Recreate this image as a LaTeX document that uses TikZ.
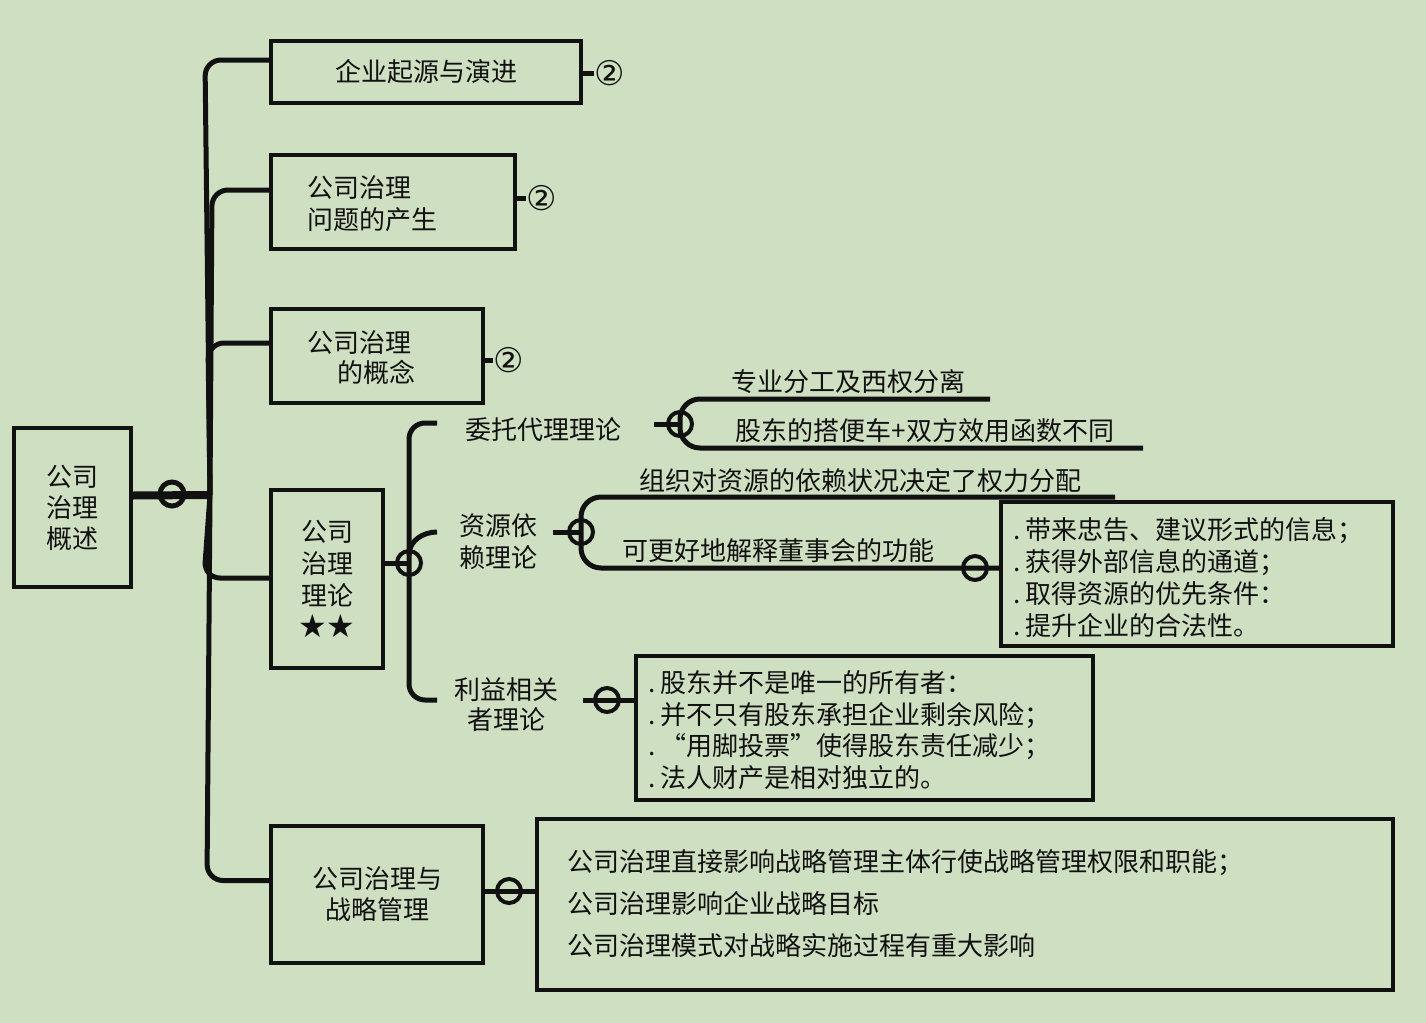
\documentclass[tikz,border=0pt]{standalone}
\usepackage{fontspec}
\usetikzlibrary{calc}
\newfontfamily\cjk{Noto Sans CJK SC}
\newfontfamily\dejavu{DejaVu Sans}
\definecolor{bg}{RGB}{207,223,194}
\definecolor{ink}{RGB}{17,17,17}
\newcommand{\bdot}{.\hspace{2.5pt}}
\begin{document}
\begin{tikzpicture}[x=0.5pt,y=-0.5pt,
  box/.style={draw=ink,line width=2pt,inner sep=0pt,font=\cjk\fontsize{13}{16}\selectfont,text=ink},
  txt/.style={inner sep=0pt,font=\cjk\fontsize{13}{16}\selectfont,text=ink},
  conn/.style={draw=ink,line width=2.5pt},
  knob/.style={circle,draw=ink,line width=2pt,minimum size=12pt,inner sep=0pt},
  num/.style={inner sep=0pt,font=\dejavu\fontsize{17}{17}\selectfont,text=ink}]

\fill[bg] (0,0) rectangle (1426,1023);
\useasboundingbox (0,0) rectangle (1426,1023);

% main boxes
\node[box,minimum width=58.5pt,minimum height=79.5pt,align=center,font=\cjk\fontsize{13}{15.5}\selectfont] (root) at (72.5,507.5) {公司\\治理\\概述};
\node[box,minimum width=155pt,minimum height=31pt] (c1) at (426,72) {企业起源与演进};
\node[box,minimum width=122pt,minimum height=47pt] (c2) at (393,202) {};
\node[txt,anchor=west,align=left] (c2t) at (307,204) {公司治理\\问题的产生};
\node[box,minimum width=106pt,minimum height=47pt] (c3) at (377,356) {};
\node[txt,anchor=west,align=left,font=\cjk\fontsize{13}{15}\selectfont] (c3t) at (307,358) {公司治理\\\hspace*{15pt}的概念};
\node[box,minimum width=56pt,minimum height=89pt,align=center] (c4) at (327,579) {公司\\治理\\理论\\{\dejavu\fontsize{16}{16}\selectfont ★★}};
\node[box,minimum width=106pt,minimum height=68.5pt,align=center,font=\cjk\fontsize{13}{15.5}\selectfont] (c5) at (377,894.5) {公司治理与\\战略管理};

% circled numbers
\node[num] (n1) at (610,73) {②};
\node[num] (n2) at (542,198) {②};
\node[num] (n3) at (509,360) {②};
\draw[conn] (c1.east |- n1) -- (n1.west);
\draw[conn] (c2.east |- n2) -- (n2.west);
\draw[conn] (c3.east |- n3) -- (n3.west);

% trunk
\coordinate (J) at (210,495);
\coordinate (e1) at ([yshift=6pt]c1.west);
\coordinate (e2) at ([yshift=6pt]c2.west);
\coordinate (e3) at ([yshift=6.5pt]c3.west);
\coordinate (e4) at ([yshift=0.5pt]c4.west);
\coordinate (e5) at ([yshift=7pt]c5.west);
\foreach \k/\dx in {1/-5,2/2,3/-2,4/-6,5/-3}
  \draw[conn,rounded corners=8pt] (J) -- ($(J |- e\k)+(\dx,0)$) -- (e\k);
\node[knob,line width=2.5pt] (q0) at (172,494) {};
\draw[conn,line width=4pt] ([yshift=6pt]root.east) -- (J);

% theory brace
\node[knob] (p4) at (409,563) {};
\draw[conn] ([yshift=8pt]c4.east) -- (p4.center);
\node[txt] (t1) at (543,430) {委托代理理论};
\node[txt,align=center] (t2) at (498,542) {资源依\\赖理论};
\node[txt,align=center,font=\cjk\fontsize{13}{15}\selectfont] (t3) at (506,705) {利益相关\\者理论};
\coordinate (b1) at (437,423);
\coordinate (b2) at (437,532);
\coordinate (b3) at (437,700);
\draw[conn,rounded corners=8pt] (b1) -- (p4 |- b1) -- (p4 |- b3) -- (b3);
\draw[conn] ($(p4)+(0,-8)$) to[out=90,in=180] (b2);

% agency
\node[knob] (q1) at (680,424) {};
\draw[conn] ($(q1.west)+(-12,0)$) -- (q1.center);
\coordinate (u1e) at (990,399);
\coordinate (u2e) at (1143,448);
\draw[conn,rounded corners=10pt] (u1e) -- (q1 |- u1e) -- (q1 |- u2e) -- (u2e);
\node[txt] (u1) at (848,382) {专业分工及西权分离};
\node[txt] (u2) at (925,431) {股东的搭便车+双方效用函数不同};

% resource dependence
\node[knob] (q2) at (581,532) {};
\draw[conn] ($(q2.west)+(-14,0)$) -- (q2.center);
\node[box,minimum width=196pt,minimum height=72pt] (rbox) at (1197,574) {};
\coordinate (v1e) at (1115,497);
\coordinate (v2e) at ([yshift=3pt]rbox.west);
\draw[conn,rounded corners=10pt] (v1e) -- (q2 |- v1e) -- (q2 |- v2e) -- (v2e);
\node[knob] (q3) at (975,568) {};
\node[txt] (v1) at (860,481) {组织对资源的依赖状况决定了权力分配};
\node[txt] (v2) at (778,551) {可更好地解释董事会的功能};
\node[txt,anchor=west,align=left] (rt) at (1013,578) {\bdot 带来忠告、建议形式的信息；\\\bdot 获得外部信息的通道；\\\bdot 取得资源的优先条件：\\\bdot 提升企业的合法性。};

% stakeholder
\node[knob] (q4) at (607,700) {};
\node[box,minimum width=228.5pt,minimum height=72pt] (sbox) at (864.5,728) {};
\draw[conn] ($(q4.west)+(-10,0)$) -- ([yshift=14pt]sbox.west);
\node[txt,anchor=west,align=left,font=\cjk\fontsize{13}{15.75}\selectfont] (st) at (648,730) {\bdot 股东并不是唯一的所有者：\\\bdot 并不只有股东承担企业剩余风险；\\\bdot “用脚投票”使得股东责任减少；\\\bdot 法人财产是相对独立的。};

% strategy
\node[knob] (q5) at (509,891) {};
\node[box,minimum width=428pt,minimum height=85.5pt] (gbox) at (965,904.5) {};
\draw[conn] (c5.east |- q5) -- (gbox.west |- q5);
\node[txt,anchor=west,align=left,font=\cjk\fontsize{13}{21}\selectfont] (gt) at (567,904) {公司治理直接影响战略管理主体行使战略管理权限和职能；\\公司治理影响企业战略目标\\公司治理模式对战略实施过程有重大影响};

\end{tikzpicture}
\end{document}
